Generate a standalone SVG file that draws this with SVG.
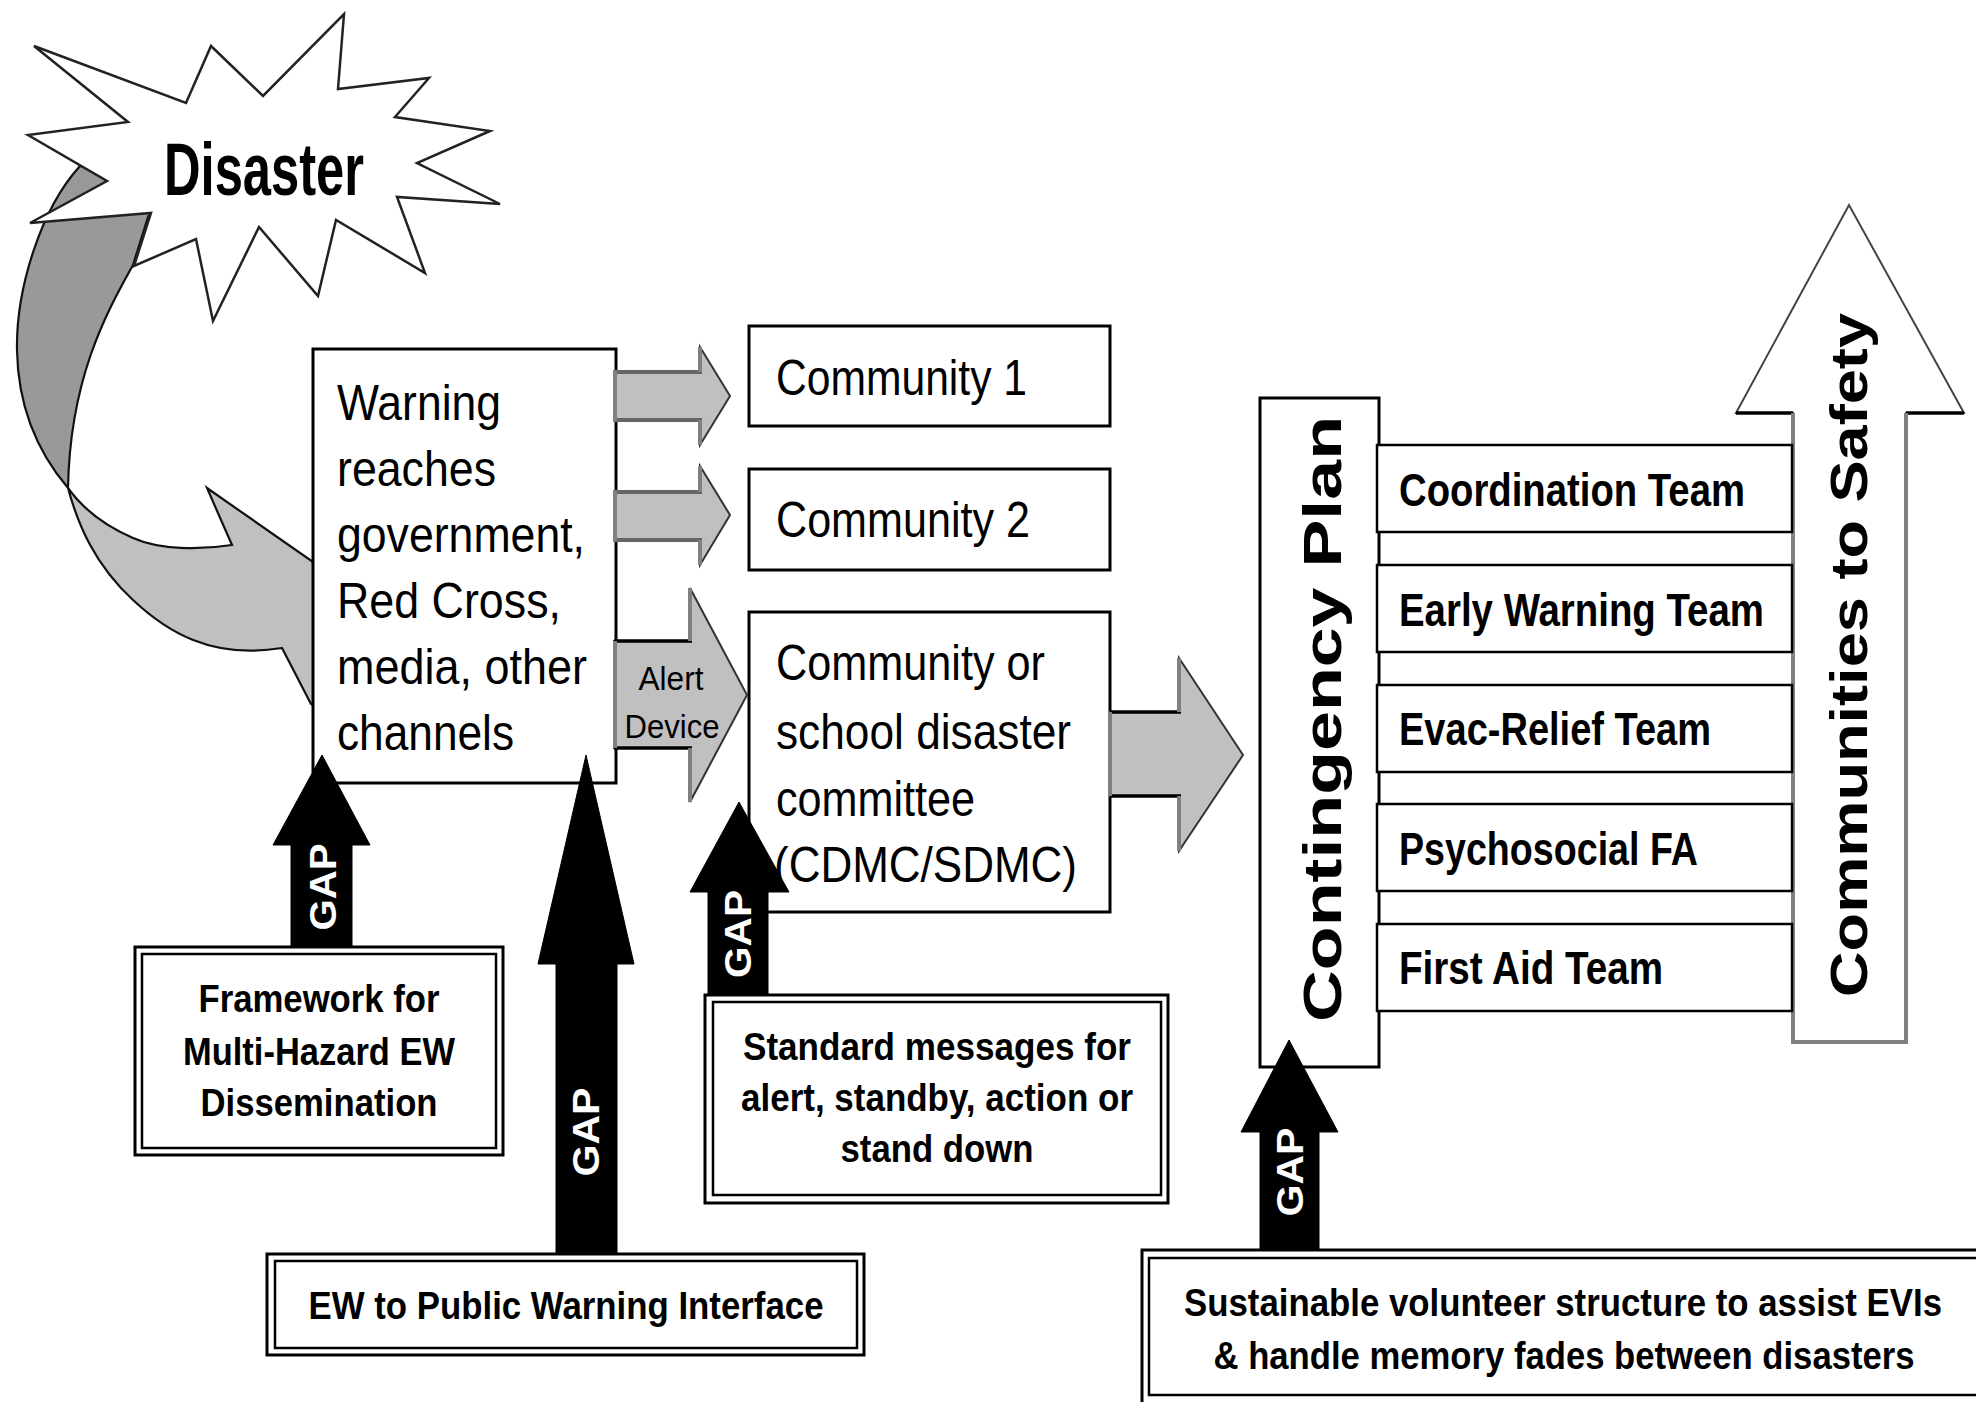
<svg xmlns="http://www.w3.org/2000/svg" width="1976" height="1402" viewBox="0 0 1976 1402">
<style>
.box{fill:#fff;stroke:#000;stroke-width:3}
.tbox{fill:#fff;stroke:#000;stroke-width:2.5}
.reg{font-family:"Liberation Sans",Arial,sans-serif;font-size:50px;fill:#000}
.small{font-family:"Liberation Sans",Arial,sans-serif;font-size:34px;fill:#000;text-anchor:middle}
.team{font-family:"Liberation Sans",Arial,sans-serif;font-weight:bold;font-size:46px;fill:#000}
.big{font-family:"Liberation Sans",Arial,sans-serif;font-weight:bold;fill:#000;text-anchor:middle}
.lbl{font-family:"Liberation Sans",Arial,sans-serif;font-weight:bold;font-size:39px;fill:#000;text-anchor:middle}
.gap{fill:#000;stroke:#000;stroke-width:1}
.gaptxt{font-family:"Liberation Sans",Arial,sans-serif;font-weight:bold;font-size:37px;fill:#fff;text-anchor:middle}
.garrow{fill:#c0c0c0;stroke:#333;stroke-width:2}
.edge-dk{stroke:#666;stroke-width:4}
.edge-bk{stroke:#000;stroke-width:3.5}
.edge-gr{stroke:#808080;stroke-width:4}
</style>
<rect x="0" y="0" width="1976" height="1402" fill="#fff"/>

<g id="connectors-back">
  <path id="curved-arrow-back" d="M80 166 L165 190 L148 217 L133 265 C105 315 70 380 68 488 C40 455 18 410 17 350 C16 290 40 210 80 166 Z" fill="#999" stroke="#111" stroke-width="2.2" stroke-linejoin="round"/>
  <path id="curved-arrow-front" d="M68 488 C78 525 95 565 133 600 C165 630 210 660 282 648 L311 704 L335 720 L335 570 L313 562 L207 488 L232 545 C200 550 160 550 133 538 C110 528 85 512 68 488 Z" fill="#c0c0c0" stroke="#111" stroke-width="2.2" stroke-linejoin="miter"/>
</g>

<g id="disaster">
  <polygon points="34,46 186,103 211,46 263,96 344,14 338,89 429,78 395,117 490,131 417,163 500,204 397,197 425,273 336,220 318,296 259,227 213,321 196,239 134,266 151,213 30,223 107,181 28,135 128,122" fill="#fff" stroke="#222" stroke-width="2.5" stroke-linejoin="miter"/>
  <text class="big" x="264" y="195" font-size="74" textLength="200" lengthAdjust="spacingAndGlyphs">Disaster</text>
</g>

<g id="warning">
  <rect class="box" x="313" y="349" width="303" height="434"/>
  <text class="reg" x="337" y="420" textLength="164" lengthAdjust="spacingAndGlyphs">Warning</text>
  <text class="reg" x="337" y="486" textLength="159" lengthAdjust="spacingAndGlyphs">reaches</text>
  <text class="reg" x="337" y="552" textLength="248" lengthAdjust="spacingAndGlyphs">government,</text>
  <text class="reg" x="337" y="618" textLength="224" lengthAdjust="spacingAndGlyphs">Red Cross,</text>
  <text class="reg" x="337" y="684" textLength="250" lengthAdjust="spacingAndGlyphs">media, other</text>
  <text class="reg" x="337" y="750" textLength="177" lengthAdjust="spacingAndGlyphs">channels</text>
</g>

<g id="community1">
  <rect class="box" x="749" y="326" width="361" height="100"/>
  <text class="reg" x="776" y="395" textLength="251" lengthAdjust="spacingAndGlyphs">Community 1</text>
</g>
<g id="community2">
  <rect class="box" x="749" y="469" width="361" height="101"/>
  <text class="reg" x="776" y="537" textLength="254" lengthAdjust="spacingAndGlyphs">Community 2</text>
</g>
<g id="committee">
  <rect class="box" x="749" y="612" width="361" height="300"/>
  <text class="reg" x="776" y="680" textLength="269" lengthAdjust="spacingAndGlyphs">Community or</text>
  <text class="reg" x="776" y="749" textLength="295" lengthAdjust="spacingAndGlyphs">school disaster</text>
  <text class="reg" x="776" y="816" textLength="199" lengthAdjust="spacingAndGlyphs">committee</text>
  <text class="reg" x="774" y="882" textLength="303" lengthAdjust="spacingAndGlyphs">(CDMC/SDMC)</text>
</g>

<g id="communities-to-safety">
  <polygon points="1793,1042 1793,413 1736,413 1849,205 1964,413 1906,413 1906,1042" fill="#fff" stroke="#444" stroke-width="2"/>
  <line x1="1736" y1="413" x2="1793" y2="413" class="edge-bk" stroke-width="3"/>
  <line x1="1906" y1="413" x2="1964" y2="413" class="edge-bk" stroke-width="3"/>
  <line x1="1793" y1="413" x2="1793" y2="1042" class="edge-gr"/>
  <line x1="1906" y1="413" x2="1906" y2="1042" class="edge-gr"/>
  <line x1="1791" y1="1042" x2="1908" y2="1042" class="edge-gr"/>
  <text class="big" transform="translate(1867 655) rotate(-90)" font-size="52" textLength="684" lengthAdjust="spacingAndGlyphs">Communities to Safety</text>
</g>

<g id="contingency-plan">
  <rect class="box" x="1260" y="398" width="119" height="669"/>
  <text class="big" transform="translate(1341 719) rotate(-90)" font-size="54" textLength="606" lengthAdjust="spacingAndGlyphs">Contingency Plan</text>
</g>

<g id="coordination-team">
  <rect class="tbox" x="1377" y="445" width="415" height="87"/>
  <text class="team" x="1399" y="506" textLength="346" lengthAdjust="spacingAndGlyphs">Coordination Team</text>
</g>
<g id="early-warning-team">
  <rect class="tbox" x="1377" y="565" width="415" height="87"/>
  <text class="team" x="1399" y="626" textLength="365" lengthAdjust="spacingAndGlyphs">Early Warning Team</text>
</g>
<g id="evac-relief-team">
  <rect class="tbox" x="1377" y="685" width="415" height="87"/>
  <text class="team" x="1399" y="745" textLength="312" lengthAdjust="spacingAndGlyphs">Evac-Relief Team</text>
</g>
<g id="psychosocial-fa">
  <rect class="tbox" x="1377" y="804" width="415" height="87"/>
  <text class="team" x="1399" y="865" textLength="299" lengthAdjust="spacingAndGlyphs">Psychosocial FA</text>
</g>
<g id="first-aid-team">
  <rect class="tbox" x="1377" y="924" width="415" height="87"/>
  <text class="team" x="1399" y="984" textLength="264" lengthAdjust="spacingAndGlyphs">First Aid Team</text>
</g>

<g id="connectors">
  <g id="arrow-community1">
    <polygon class="garrow" points="614,372 700,372 700,347 730,396 700,445 700,420 614,420"/>
    <line x1="614" y1="372" x2="702" y2="372" class="edge-dk"/>
    <line x1="614" y1="420" x2="702" y2="420" class="edge-dk"/>
    <line x1="615" y1="370" x2="615" y2="422" class="edge-gr"/>
    <line x1="700" y1="347" x2="700" y2="372" class="edge-gr"/>
    <line x1="700" y1="420" x2="700" y2="445" class="edge-gr"/>
  </g>
  <g id="arrow-community2">
    <polygon class="garrow" points="614,492 700,492 700,466 730,515 700,565 700,540 614,540"/>
    <line x1="614" y1="492" x2="702" y2="492" class="edge-dk"/>
    <line x1="614" y1="540" x2="702" y2="540" class="edge-dk"/>
    <line x1="615" y1="490" x2="615" y2="542" class="edge-gr"/>
    <line x1="700" y1="466" x2="700" y2="492" class="edge-gr"/>
    <line x1="700" y1="540" x2="700" y2="565" class="edge-gr"/>
  </g>
  <g id="arrow-alert-device">
    <polygon class="garrow" points="614,641 690,641 690,588 747,695 690,802 690,748 614,748"/>
    <line x1="614" y1="641" x2="692" y2="641" class="edge-bk"/>
    <line x1="614" y1="748" x2="692" y2="748" class="edge-bk"/>
    <line x1="615" y1="641" x2="615" y2="748" class="edge-gr"/>
    <line x1="690" y1="588" x2="690" y2="641" class="edge-gr"/>
    <line x1="690" y1="748" x2="690" y2="802" class="edge-gr"/>
    <text class="small" x="671" y="690" textLength="65" lengthAdjust="spacingAndGlyphs">Alert</text>
    <text class="small" x="672" y="738" textLength="95" lengthAdjust="spacingAndGlyphs">Device</text>
  </g>
  <g id="arrow-to-plan">
    <polygon class="garrow" points="1110,712 1179,712 1179,658 1243,755 1179,851 1179,796 1110,796"/>
    <line x1="1110" y1="712" x2="1181" y2="712" class="edge-bk"/>
    <line x1="1110" y1="796" x2="1181" y2="796" class="edge-bk"/>
    <line x1="1110" y1="712" x2="1110" y2="796" class="edge-gr"/>
    <line x1="1179" y1="658" x2="1179" y2="712" class="edge-gr"/>
    <line x1="1179" y1="796" x2="1179" y2="851" class="edge-gr"/>
  </g>
  <g id="gap1">
    <polygon class="gap" points="291,947 291,845 273,845 322,755 370,845 352,845 352,947"/>
    <text class="gaptxt" transform="translate(336 887) rotate(-90)" textLength="87" lengthAdjust="spacingAndGlyphs">GAP</text>
  </g>
  <g id="gap2">
    <polygon class="gap" points="556,1254 556,964 538,964 586,755 634,964 617,964 617,1254"/>
    <text class="gaptxt" transform="translate(599 1132) rotate(-90)" textLength="89" lengthAdjust="spacingAndGlyphs">GAP</text>
  </g>
  <g id="gap3">
    <polygon class="gap" points="708,995 708,892 690,892 739,802 789,892 768,892 768,995"/>
    <text class="gaptxt" transform="translate(751 934) rotate(-90)" textLength="88" lengthAdjust="spacingAndGlyphs">GAP</text>
  </g>
  <g id="gap4">
    <polygon class="gap" points="1260,1250 1260,1132 1241,1132 1289,1040 1338,1132 1319,1132 1319,1250"/>
    <text class="gaptxt" transform="translate(1303 1172) rotate(-90)" textLength="89" lengthAdjust="spacingAndGlyphs">GAP</text>
  </g>
</g>

<g id="framework">
  <rect class="box" x="135" y="947" width="368" height="208"/>
  <rect class="tbox" x="142" y="954" width="354" height="194"/>
  <text class="lbl" x="319" y="1012" textLength="241" lengthAdjust="spacingAndGlyphs">Framework for</text>
  <text class="lbl" x="319" y="1065" textLength="272" lengthAdjust="spacingAndGlyphs">Multi-Hazard EW</text>
  <text class="lbl" x="319" y="1116" textLength="237" lengthAdjust="spacingAndGlyphs">Dissemination</text>
</g>
<g id="ew-public-interface">
  <rect class="box" x="267" y="1254" width="597" height="101"/>
  <rect class="tbox" x="275" y="1261" width="582" height="87"/>
  <text class="lbl" x="566" y="1319" font-size="38" textLength="515" lengthAdjust="spacingAndGlyphs">EW to Public Warning Interface</text>
</g>
<g id="standard-messages">
  <rect class="box" x="705" y="995" width="463" height="208"/>
  <rect class="tbox" x="713" y="1002" width="448" height="193"/>
  <text class="lbl" x="937" y="1060" font-size="40" textLength="388" lengthAdjust="spacingAndGlyphs">Standard messages for</text>
  <text class="lbl" x="937" y="1111" font-size="40" textLength="392" lengthAdjust="spacingAndGlyphs">alert, standby, action or</text>
  <text class="lbl" x="937" y="1162" font-size="40" textLength="193" lengthAdjust="spacingAndGlyphs">stand down</text>
</g>
<g id="volunteer-structure">
  <rect class="box" x="1142" y="1250" width="860" height="170"/>
  <rect class="tbox" x="1149" y="1258" width="845" height="137"/>
  <text class="lbl" x="1563" y="1316" font-size="42" textLength="758" lengthAdjust="spacingAndGlyphs">Sustainable volunteer structure to assist EVIs</text>
  <text class="lbl" x="1564" y="1369" font-size="42" textLength="701" lengthAdjust="spacingAndGlyphs">&amp; handle memory fades between disasters</text>
</g>
</svg>
